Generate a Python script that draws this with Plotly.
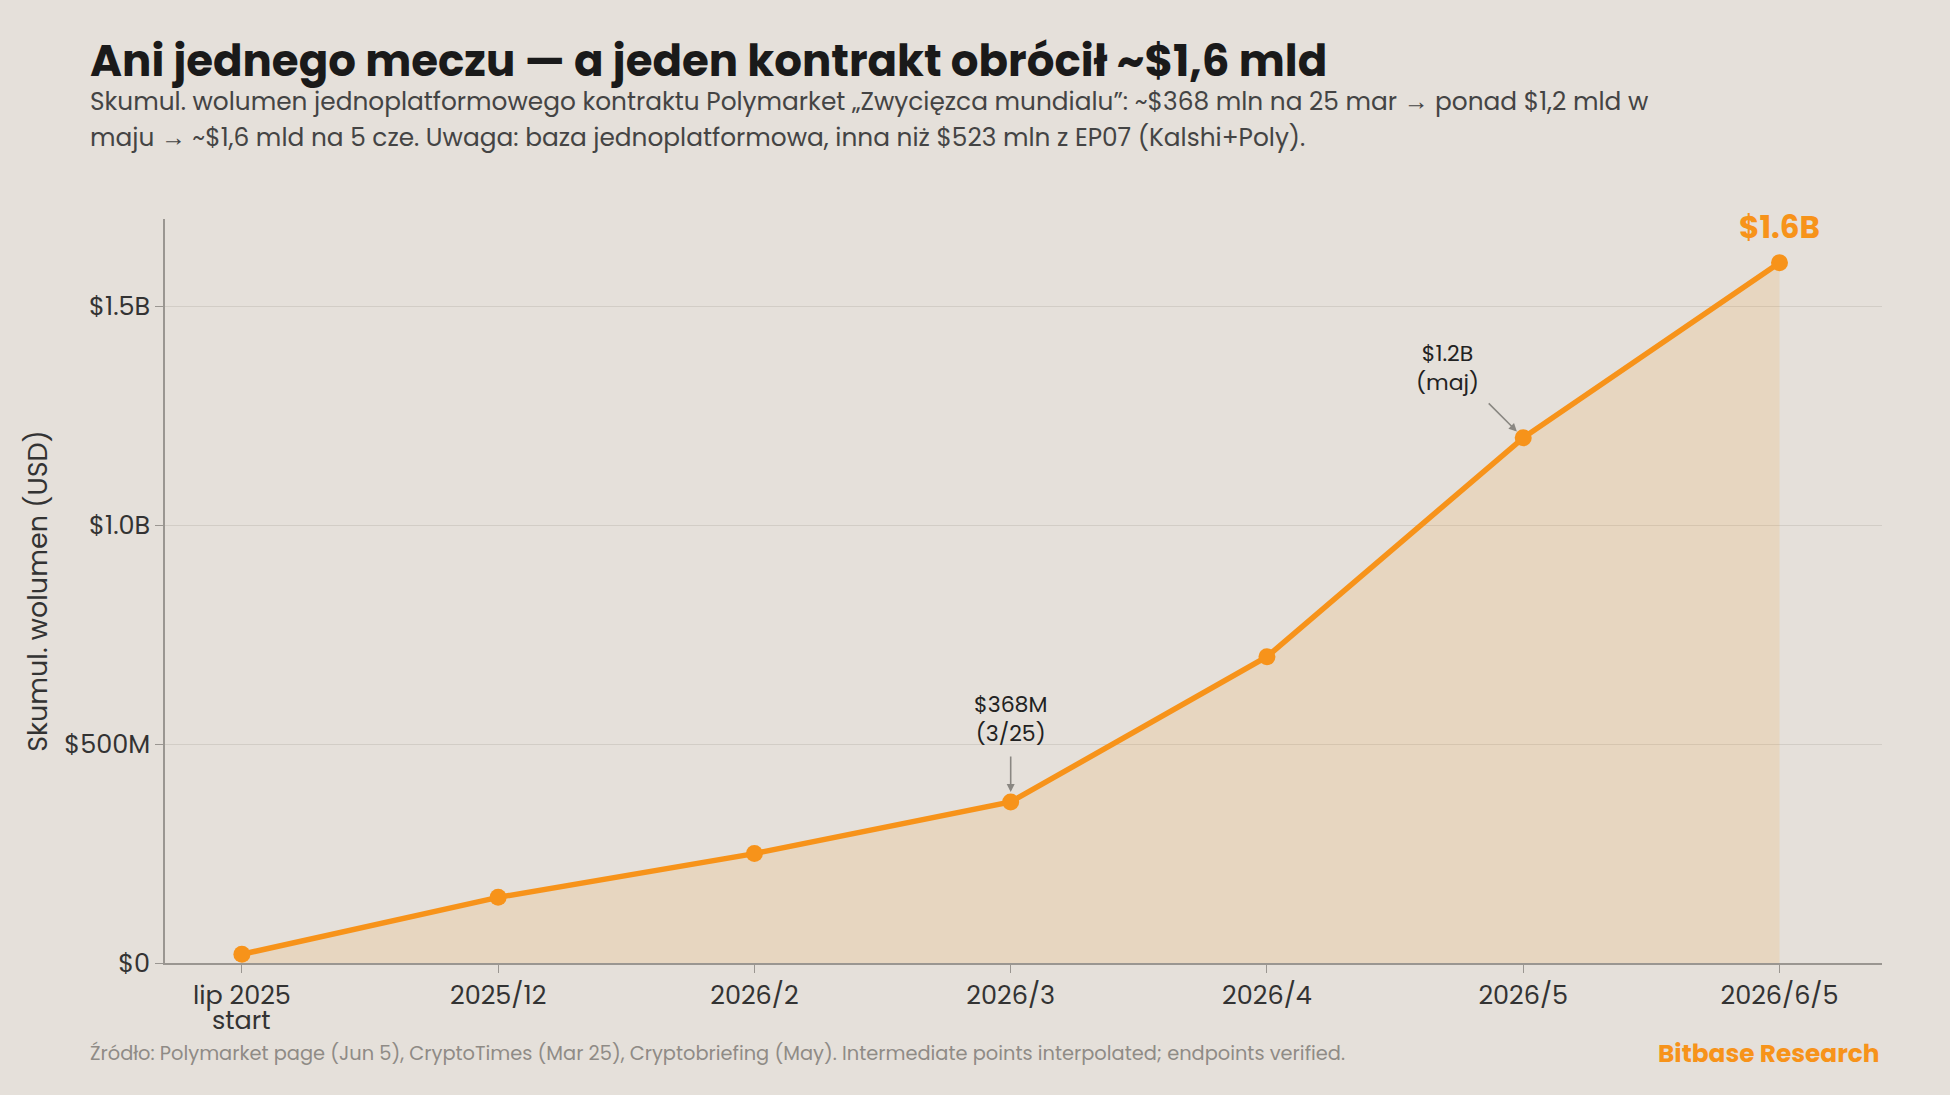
import plotly.graph_objects as go

categories = ["lip 2025 start", "2025/12", "2026/2", "2026/3", "2026/4", "2026/5", "2026/6/5"]
x_ticktext = ["lip 2025", "2025/12", "2026/2", "2026/3", "2026/4", "2026/5", "2026/6/5"]
first_tick_second_line = "start"
volume_usd = [20e6, 150e6, 250e6, 368e6, 700e6, 1200e6, 1600e6]
y_tickvals = [0, 500e6, 1000e6, 1500e6]
y_ticktext = ["$0", "$500M", "$1.0B", "$1.5B"]

ORANGE = "#F7931A"
BG = "#E5E0DA"
FONT = "Poppins, 'Open Sans', sans-serif"

fig = go.Figure()
fig.add_trace(go.Scatter(
    x=categories, y=volume_usd, mode="lines+markers",
    line=dict(color=ORANGE, width=5.5),
    marker=dict(color=ORANGE, size=17),
    fill="tozeroy", fillcolor="rgba(247,147,26,0.13)",
    hoverinfo="skip", showlegend=False,
))

ann = []
# $368M
ann.append(dict(x=categories[3], y=volume_usd[3], text="$368M<br>(3/25)", showarrow=False,
                yanchor="middle", yshift=83, font=dict(size=22, color="#222", family=FONT)))
ann.append(dict(x=categories[3], y=volume_usd[3], text="", showarrow=True, ax=0, ay=-47,
                arrowhead=2, arrowsize=1, arrowwidth=1.6, arrowcolor="#8a8782", standoff=10))
# $1.2B
ann.append(dict(x=categories[5], y=volume_usd[5], text="$1.2B<br>(maj)", showarrow=False,
                yanchor="middle", yshift=70, xshift=-76, font=dict(size=22, color="#222", family=FONT)))
ann.append(dict(x=categories[5], y=volume_usd[5], text="", showarrow=True, ax=-36, ay=-36,
                arrowhead=2, arrowsize=1, arrowwidth=1.6, arrowcolor="#8a8782", standoff=9))
# $1.6B
ann.append(dict(x=categories[6], y=volume_usd[6], text="<b>$1.6B</b>", showarrow=False,
                yanchor="bottom", yshift=12, font=dict(size=31, color=ORANGE, family=FONT)))
# second line of first x tick label
ann.append(dict(x=categories[0], yref="paper", y=0, yshift=-57, text=first_tick_second_line,
                showarrow=False, yanchor="middle", font=dict(size=25.5, color="#333", family=FONT)))

# Title & subtitle & footer
ann.append(dict(xref="paper", yref="paper", x=0, y=1, xshift=-77, yshift=159, xanchor="left", yanchor="middle",
                text="<b>Ani jednego meczu — a jeden kontrakt obrócił ~$1,6 mld</b>", showarrow=False,
                font=dict(size=43.5, color="#1a1a1a", family=FONT)))
ann.append(dict(xref="paper", yref="paper", x=0, y=1, xshift=-77, yshift=118, xanchor="left", yanchor="middle",
                text="Skumul. wolumen jednoplatformowego kontraktu Polymarket „Zwycięzca mundialu”: ~$368 mln na 25 mar → ponad $1,2 mld w",
                showarrow=False, font=dict(size=24.8, color="#444", family=FONT)))
ann.append(dict(xref="paper", yref="paper", x=0, y=1, xshift=-77, yshift=82, xanchor="left", yanchor="middle",
                text="maju → ~$1,6 mld na 5 cze. Uwaga: baza jednoplatformowa, inna niż $523 mln z EP07 (Kalshi+Poly).",
                showarrow=False, font=dict(size=24.8, color="#444", family=FONT)))
ann.append(dict(xref="paper", yref="paper", x=0, y=0, xshift=-77, yshift=-90, xanchor="left", yanchor="middle",
                text="Źródło: Polymarket page (Jun 5), CryptoTimes (Mar 25), Cryptobriefing (May). Intermediate points interpolated; endpoints verified.",
                showarrow=False, font=dict(size=19.4, color="#8f8b86", family=FONT)))
ann.append(dict(xref="paper", yref="paper", x=1, y=0, yshift=-90, xanchor="right", yanchor="middle",
                text="<b>Bitbase Research</b>", showarrow=False, font=dict(size=24.8, color=ORANGE, family=FONT)))

fig.update_layout(
    width=1950, height=1095,
    paper_bgcolor=BG, plot_bgcolor=BG,
    margin=dict(l=165, r=68, t=219, b=132),
    font=dict(family=FONT, color="#333"),
    annotations=ann,
    xaxis=dict(type="category", range=[-0.3, 6.4], showgrid=False,
               tickvals=categories, ticktext=x_ticktext,
               showline=True, linecolor="#9a9691", linewidth=2,
               ticks="outside", ticklen=8, tickcolor="#9a9691",
               tickfont=dict(size=25.5, color="#333")),
    yaxis=dict(range=[0, 1.7e9], tickvals=y_tickvals, ticktext=y_ticktext,
               showgrid=True, gridcolor="#d2cdc6", gridwidth=1, zeroline=False,
               showline=True, linecolor="#9a9691", linewidth=1.5,
               ticks="outside", ticklen=8, tickcolor="#9a9691",
               tickfont=dict(size=25.5, color="#333"),
               title=dict(text="Skumul. wolumen (USD)", font=dict(size=27, color="#333"), standoff=9)),
)

fig.write_html("out.html")
